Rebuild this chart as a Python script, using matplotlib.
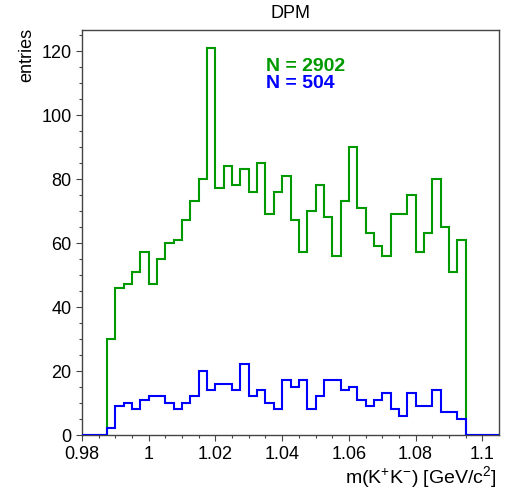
#!/usr/bin/env python3
"""DPM m(K+K-) spectrum: all candidates vs. selected, ROOT-style step histograms."""
import numpy as np
import matplotlib
matplotlib.use("Agg")
import matplotlib.pyplot as plt

plt.rcParams["font.family"] = ["Liberation Sans", "DejaVu Sans"]
plt.rcParams["mathtext.fontset"] = "custom"
plt.rcParams["mathtext.rm"] = "Liberation Sans"
plt.rcParams["mathtext.it"] = "Liberation Sans:italic"

# binning in GeV/c^2
M_LO, M_HI, BIN_W = 0.98, 1.105, 0.0025
FIRST_FILLED = 0.9875

# bin contents from FIRST_FILLED upwards, one entry per bin
counts_all = [30, 46, 47, 51, 57, 47, 55, 60, 61, 67,
              73, 80, 121, 77, 84, 78, 83, 76, 85, 69,
              76, 81, 67, 57, 70, 78, 68, 56, 73, 90,
              71, 63, 59, 56, 69, 69, 75, 57, 63, 80,
              65, 51, 61]
counts_sel = [2, 9, 10, 8, 11, 12, 12, 10, 8, 10,
              12, 20, 14, 16, 16, 14, 22, 12, 14, 10,
              8, 17, 15, 17, 8, 12, 17, 17, 14, 15,
              11, 9, 11, 13, 8, 6, 13, 9, 9, 14,
              7, 7, 5]

GREEN = "#009a00"
BLUE = "#0000ff"
AXIS_GREY = "#444444"


def full_hist(vals):
    n_bins = int(round((M_HI - M_LO) / BIN_W))
    h = np.zeros(n_bins)
    i0 = int(round((FIRST_FILLED - M_LO) / BIN_W))
    h[i0:i0 + len(vals)] = vals
    return h


edges = M_LO + BIN_W * np.arange(int(round((M_HI - M_LO) / BIN_W)) + 1)
h_all = full_hist(counts_all)
h_sel = full_hist(counts_sel)

fig = plt.figure(figsize=(5.12, 4.89), dpi=100)
ax = fig.add_axes([82 / 512, 1 - 435.7 / 489, 417 / 512, 404.7 / 489])

ax.stairs(h_all, edges, baseline=0, color=GREEN, lw=1.5, zorder=2)
ax.stairs(h_sel, edges, baseline=0, color=BLUE, lw=1.5, zorder=3)

ax.set_xlim(M_LO, M_HI)
ax.set_ylim(0, 1.046 * max(counts_all))
ax.set_xticks(np.arange(0.98, 1.1001, 0.02))
ax.set_xticklabels(["0.98", "1", "1.02", "1.04", "1.06", "1.08", "1.1"])
ax.set_xticks(np.arange(0.98, 1.105, 0.005), minor=True)
ax.set_yticks(np.arange(0, 121, 20))
ax.set_yticks(np.arange(0, 126, 5), minor=True)

for s in ax.spines.values():
    s.set_color(AXIS_GREY)
    s.set_linewidth(1.0)
ax.tick_params(which="both", direction="out", color=AXIS_GREY, width=0.8,
               labelsize=13, top=False, right=False)
ax.tick_params(which="major", length=4.5, pad=3)
ax.tick_params(which="minor", length=2.3)

ax.text(0.441, 0.901, "N = %d" % sum(counts_all), transform=ax.transAxes,
        color=GREEN, fontsize=14, fontweight="bold", va="baseline")
ax.text(0.441, 0.860, "N = %d" % sum(counts_sel), transform=ax.transAxes,
        color=BLUE, fontsize=14, fontweight="bold", va="baseline")

fig.text(290.5 / 512, 1 - 13 / 489, "DPM", ha="center", va="center", fontsize=13)
fig.text(27 / 512, 1 - 28 / 489, "entries", rotation=90, ha="center", va="top",
         fontsize=13)
fig.text(497 / 512, 1 - 483 / 489,
         r"m(K$^{\mathrm{+}}$K$^{\mathrm{-}}$) [GeV/c$^{\mathrm{2}}$]",
         ha="right", va="baseline", fontsize=14)

fig.savefig("out.png", dpi=100)
